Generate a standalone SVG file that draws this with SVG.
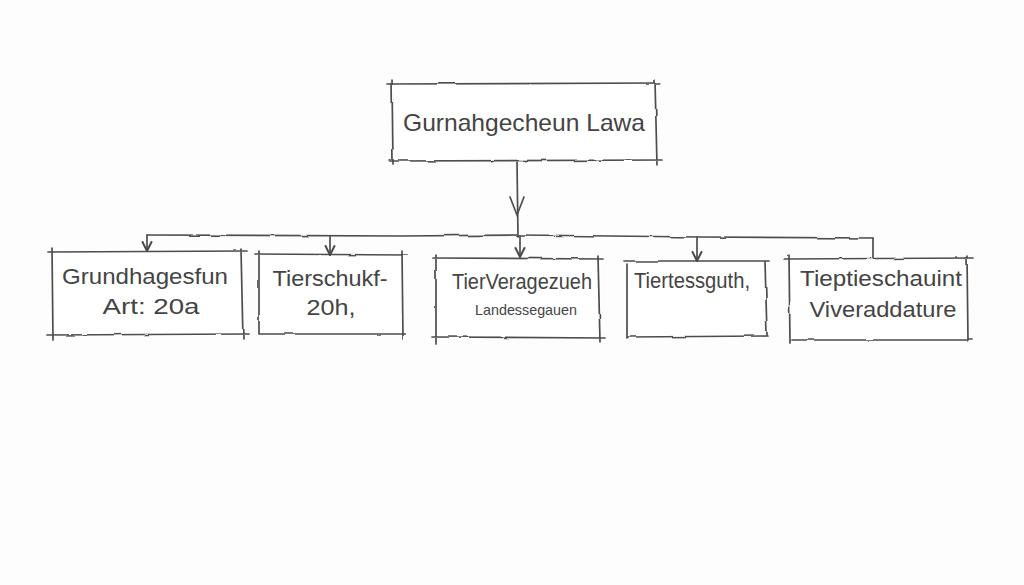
<svg xmlns="http://www.w3.org/2000/svg" width="1024" height="585" viewBox="0 0 1024 585">
<defs>
<filter id="rough" x="-5%" y="-5%" width="110%" height="110%">
<feTurbulence type="fractalNoise" baseFrequency="0.04" numOctaves="2" seed="3" result="n"/>
<feDisplacementMap in="SourceGraphic" in2="n" scale="2.5" xChannelSelector="R" yChannelSelector="G"/>
</filter>
<marker id="arr" viewBox="0 0 12 12" refX="11" refY="6" markerWidth="13" markerHeight="13" markerUnits="userSpaceOnUse" orient="auto">
<path d="M2,1.5 L11,6 L2,10.5" fill="none" stroke="#4a4a4a" stroke-width="1.8"/>
</marker>
<style>
.sk{fill:none;stroke:#4d4d4d;stroke-width:1.7;stroke-linecap:round}
.bg{fill:#ffffff;stroke:none}
.t{font-family:"Liberation Sans",Arial,sans-serif;fill:#444444;text-anchor:middle}
.big{font-size:24px}
.mid{font-size:22px}
.sm{font-size:15px}
</style>
</defs>
<rect width="1024" height="585" fill="#fdfdfd"/>
<g id="root">
<rect class="bg" x="392" y="83" width="266" height="79"/>
<g filter="url(#rough)">
<path class="sk" d="M388,84 L661,83 M392,80 L393,164 M655,80 L657,165 M389,161 L662,160"/>
</g>
<text class="t big" x="524" y="131" textLength="242" lengthAdjust="spacingAndGlyphs">Gurnahgecheun Lawa</text>
</g>
<g id="n1">
<rect class="bg" x="52" y="252" width="192" height="84"/>
<g filter="url(#rough)">
<path class="sk" d="M48,252 L247,251 M52,248 L53,340 M241,249 L243,339 M47,335 L248,334"/>
</g>
<text class="t mid" x="145" y="284" textLength="166" lengthAdjust="spacingAndGlyphs">Grundhagesfun</text>
<text class="t mid" x="151" y="314" textLength="97" lengthAdjust="spacingAndGlyphs">Art: 20a</text>
</g>
<g id="n2">
<rect class="bg" x="258" y="254" width="146" height="81"/>
<g filter="url(#rough)">
<path class="sk" d="M255,254 L407,255 M259,251 L259,334 M402,251 L403,339 M259,334 L406,334"/>
</g>
<text class="t mid" x="330" y="286" textLength="115" lengthAdjust="spacingAndGlyphs">Tierschukf-</text>
<text class="t mid" x="331" y="315" textLength="49" lengthAdjust="spacingAndGlyphs">20h,</text>
</g>
<g id="n3">
<rect class="bg" x="436" y="258" width="165" height="82"/>
<g filter="url(#rough)">
<path class="sk" d="M433,258 L603,259 M436,255 L436,344 M598,256 L600,342 M432,337 L605,338"/>
</g>
<text class="t mid" x="522" y="289" textLength="140" lengthAdjust="spacingAndGlyphs">TierVeragezueh</text>
<text class="t sm" x="526" y="315" textLength="102" lengthAdjust="spacingAndGlyphs">Landessegauen</text>
</g>
<g id="n4">
<rect class="bg" x="627" y="261" width="140" height="76"/>
<g filter="url(#rough)">
<path class="sk" d="M624,261 L769,261 M627,264 L627,338 M765,262 L767,335 M627,337 L768,336"/>
</g>
<text class="t mid" x="692" y="288" textLength="116" lengthAdjust="spacingAndGlyphs">Tiertessguth,</text>
</g>
<g id="n5">
<rect class="bg" x="789" y="259" width="181" height="81"/>
<g filter="url(#rough)">
<path class="sk" d="M785,259 L973,258 M789,255 L790,343 M967,256 L968,341 M792,340 L972,340"/>
</g>
<text class="t mid" x="881" y="286" textLength="162" lengthAdjust="spacingAndGlyphs">Tieptieschauint</text>
<text class="t mid" x="883" y="317" textLength="147" lengthAdjust="spacingAndGlyphs">Viveraddature</text>
</g>
<g id="connectors" filter="url(#rough)">
<path class="sk" d="M517,162 L518,236"/>
<path class="sk" d="M510,197 L517,215 L524,197"/>
<path class="sk" d="M147,235 L400,236 L520,235 L700,237 L873,238"/>
<path class="sk" d="M147,235 L147,251" marker-end="url(#arr)"/>
<path class="sk" d="M330,236 L330,255" marker-end="url(#arr)"/>
<path class="sk" d="M520,235 L520,257" marker-end="url(#arr)"/>
<path class="sk" d="M697,237 L697,261" marker-end="url(#arr)"/>
<path class="sk" d="M873,238 L873,258"/>
</g>
</svg>
